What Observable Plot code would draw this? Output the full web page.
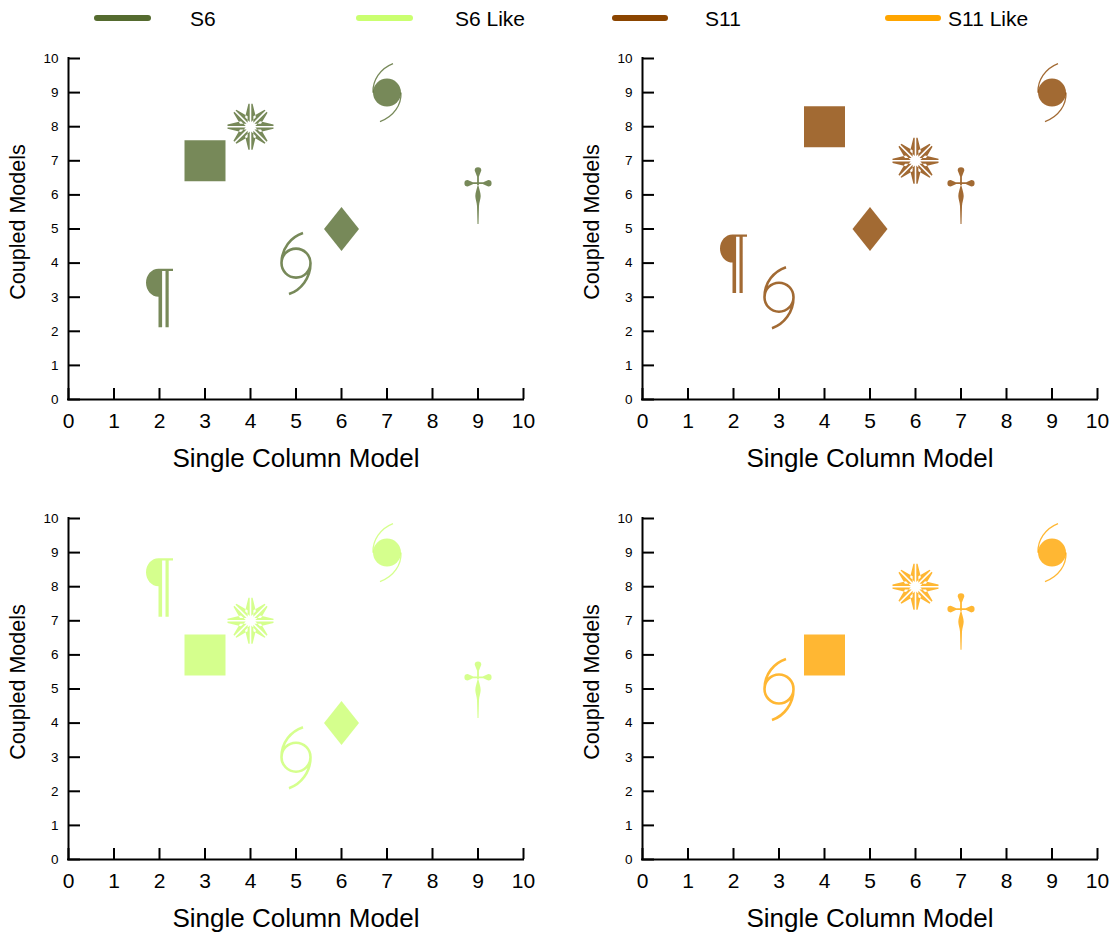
<!DOCTYPE html>
<html>
<head>
<meta charset="utf-8">
<script src="https://cdn.jsdelivr.net/npm/d3@7"></script>
<script src="https://cdn.jsdelivr.net/npm/@observablehq/plot@0.6"></script>
<style>
  body { margin: 0; background: #fff; font-family: "Liberation Sans", Arial, sans-serif; }
  #root { position: relative; width: 1114px; height: 935px; overflow: hidden; }
  .panel { position: absolute; width: 557px; height: 460px; }
  .panel svg { overflow: visible; max-width: none !important; }
</style>
</head>
<body>
<div id="root"></div>
<script>
// Seven weather-style glyphs, one position per glyph in each panel
const glyphNames = ["pilcrow", "storm", "diamond", "dagger", "square", "star", "hurricane"];

// Panel values (Single Column Model, Coupled Models); null = glyph absent
const s6X      = [2, 5, 6, 9, 3, 4, 7];
const s6Y      = [3, 4, 5, 6, 7, 8, 9];
const s11X     = [2, 3, 5, 7, 4, 6, 9];
const s11Y     = [4, 3, 5, 6, 8, 7, 9];
const s6LikeX  = [2, 5, 6, 9, 3, 4, 7];
const s6LikeY  = [8, 3, 4, 5, 6, 7, 9];
const s11LikeX = [null, 3, null, 7, 4, 6, 9];
const s11LikeY = [null, 5, null, 7, 6, 8, 9];

const seriesNames  = ["S6", "S6 Like", "S11", "S11 Like"];
const seriesColors = ["#556B2F", "#CAFF70", "#8B4500", "#FFA500"];

const xTicks = [0, 1, 2, 3, 4, 5, 6, 7, 8, 9, 10];
const yTicks = [0, 1, 2, 3, 4, 5, 6, 7, 8, 9, 10];
const xTitle = "Single Column Model";
const yTitle = "Coupled Models";

// ---- custom symbols (drawn in pixels around the point; r = 10 gives unit scale)
const unit = (size) => Math.sqrt(size / Math.PI) / 10;
const KAPPA = 0.5523;

const fillParts = {
  square: { draw(c, size) { const s = unit(size) * 20.5; c.rect(-s, -s, 2 * s, 2 * s); } },
  diamond: { draw(c, size) {
    const s = unit(size);
    c.moveTo(0, -22 * s); c.lineTo(17.5 * s, 0); c.lineTo(0, 22 * s); c.lineTo(-17.5 * s, 0); c.closePath();
  } },
  star: { draw(c, size) {
    const s = unit(size);
    for (let i = 0; i < 8; i++) {
      const a = i * Math.PI / 4;
      const R = (i % 2 === 0 ? 23 : 22) * s;
      const ux = Math.cos(a), uy = Math.sin(a), vx = -uy, vy = ux;
      for (const sg of [-1, 1]) {
        const P = (u, v) => [ux * u + vx * v * sg, uy * u + vy * v * sg];
        const pts = [P(4.8 * s, 0.8 * s), P(9.5 * s, 5.4 * s), P(R, 2.1 * s), P(R, 0.8 * s)];
        c.moveTo(...pts[0]); for (const q of pts.slice(1)) c.lineTo(...q); c.closePath();
      }
    }
  } },
  hurricane: { draw(c, size) { const s = unit(size); c.moveTo(14 * s, 0); c.arc(0, 0, 14 * s, 0, 2 * Math.PI); } },
  dagger: { draw(c, size) {
    const s = unit(size);
    // teardrop: round end at (x, y), pointing toward (tx, ty)
    const drop = (x, y, r, tx, ty) => {
      const a = Math.atan2(ty - y, tx - x);
      c.moveTo((x + r * Math.cos(a + Math.PI / 2)) * s, (y + r * Math.sin(a + Math.PI / 2)) * s);
      c.arc(x * s, y * s, r * s, a + Math.PI / 2, a - Math.PI / 2);
      c.lineTo(tx * s, ty * s);
      c.closePath();
    };
    drop(0, -24.3, 3.3, 0, -16); drop(-10.3, -11.7, 3.3, -3, -11.7); drop(10.3, -11.7, 3.3, 3, -11.7);
    c.rect(-0.9 * s, -22 * s, 1.8 * s, 12 * s);
    c.rect(-8 * s, -12.6 * s, 16 * s, 1.8 * s);
    c.moveTo(0, -11 * s);
    c.bezierCurveTo(1.2 * s, -6 * s, 2.7 * s, -2 * s, 2.7 * s, 1 * s);
    c.bezierCurveTo(2.7 * s, 4 * s, 1.2 * s, 7 * s, 1.0 * s, 11 * s);
    c.lineTo(0.5 * s, 29 * s); c.lineTo(-0.5 * s, 29 * s); c.lineTo(-1.0 * s, 11 * s);
    c.bezierCurveTo(-1.2 * s, 7 * s, -2.7 * s, 4 * s, -2.7 * s, 1 * s);
    c.bezierCurveTo(-2.7 * s, -2 * s, -1.2 * s, -6 * s, 0, -11 * s);
    c.closePath();
  } },
  pilcrow: { draw(c, size) {
    const s = unit(size);
    const cx = -1 * s, cy = -14.5 * s, rx = 12.5 * s, ry = 14 * s;
    c.moveTo(cx, cy - ry);
    c.bezierCurveTo(cx - rx * KAPPA, cy - ry, cx - rx, cy - ry * KAPPA, cx - rx, cy);
    c.bezierCurveTo(cx - rx, cy + ry * KAPPA, cx - rx * KAPPA, cy + ry, cx, cy + ry);
    c.closePath();
    c.rect(-1 * s, -28.5 * s, 14.5 * s, 2.2 * s);
    c.rect(-1 * s, -28.5 * s, 3.6 * s, 58.5 * s);
    c.rect(6 * s, -28.5 * s, 3.2 * s, 58.5 * s);
  } }
};

const strokeParts = {
  hurricane: { width: 1.3, draw(c, size) {
    const s = unit(size);
    c.moveTo(-14 * s, 0); c.bezierCurveTo(-14.5 * s, -12 * s, -7 * s, -24 * s, 6 * s, -29 * s);
    c.moveTo(14 * s, 0); c.bezierCurveTo(14.5 * s, 12 * s, 7 * s, 24 * s, -7 * s, 29 * s);
  } },
  storm: { width: 2.6, draw(c, size) {
    const s = unit(size);
    c.moveTo(14.5 * s, 0); c.arc(0, 0, 14.5 * s, 0, 2 * Math.PI);
    c.moveTo(-14.5 * s, 0); c.bezierCurveTo(-14.5 * s, -15 * s, -5 * s, -26 * s, 7 * s, -30 * s);
    c.moveTo(14.5 * s, 0); c.bezierCurveTo(14.5 * s, 15 * s, 5 * s, 27 * s, -7 * s, 31 * s);
  } }
};

function rowsOf(xs, ys) {
  return glyphNames.map((g, i) => ({glyph: g, x: xs[i], y: ys[i]})).filter(d => d.x != null && d.y != null);
}

const panels = [
  {rows: rowsOf(s6X, s6Y), color: seriesColors[0], left: 0, top: 40},
  {rows: rowsOf(s11X, s11Y), color: seriesColors[2], left: 574, top: 40},
  {rows: rowsOf(s6LikeX, s6LikeY), color: seriesColors[1], left: 0, top: 500},
  {rows: rowsOf(s11LikeX, s11LikeY), color: seriesColors[3], left: 574, top: 500}
];

const W = 557, H = 460;
const M = {left: 68, right: 34, top: 18, bottom: 101};
const innerW = W - M.left - M.right, innerH = H - M.top - M.bottom;

const root = document.getElementById("root");

for (const p of panels) {
  const marks = [];
  for (const g of glyphNames) {
    const data = p.rows.filter(d => d.glyph === g);
    if (!data.length) continue;
    if (fillParts[g]) {
      marks.push(Plot.dot(data, {x: "x", y: "y", r: 10, symbol: fillParts[g], fill: p.color, fillOpacity: 0.8, stroke: "none"}));
    }
    if (strokeParts[g]) {
      marks.push(Plot.dot(data, {x: "x", y: "y", r: 10, symbol: strokeParts[g], fill: "none", stroke: p.color, strokeOpacity: 0.8, strokeWidth: strokeParts[g].width}));
    }
  }
  const chart = Plot.plot({
    width: W, height: H,
    marginLeft: M.left, marginRight: M.right, marginTop: M.top, marginBottom: M.bottom,
    style: {fontFamily: "Liberation Sans, Arial, sans-serif", color: "#000", background: "transparent"},
    x: {domain: [0, 10]},
    y: {domain: [0, 10]},
    marks: [
      Plot.axisX(xTicks, {tickSize: 0, tickPadding: 14, fontSize: 21, label: null}),
      Plot.axisY(yTicks, {tickSize: 0, tickPadding: 10, fontSize: 13.5, label: null}),
      Plot.tickX(xTicks, {x: d => d, insetTop: innerH - 11, stroke: "#000", strokeWidth: 2}),
      Plot.tickY(yTicks, {y: d => d, insetRight: innerW - 12, stroke: "#000", strokeWidth: 2}),
      Plot.ruleX([0], {stroke: "#000", strokeWidth: 2, strokeLinecap: "square"}),
      Plot.ruleY([0], {stroke: "#000", strokeWidth: 2, strokeLinecap: "square"}),
      Plot.text([xTitle], {text: d => d, frameAnchor: "bottom", dy: 67, fontSize: 26, fill: "#000"}),
      Plot.text([yTitle], {text: d => d, frameAnchor: "left", textAnchor: "middle", rotate: -90, dx: -50, dy: -7, fontSize: 21.5, fill: "#000"}),
      ...marks
    ]
  });
  const div = document.createElement("div");
  div.className = "panel";
  div.style.left = p.left + "px";
  div.style.top = p.top + "px";
  div.appendChild(chart);
  root.appendChild(div);
}

// Legend row across the top
const legendLine = [[97, 148], [359, 410], [615, 665], [888, 938]];
const legendText = [190, 455, 705, 948];
const legend = d3.create("svg").attr("width", 1114).attr("height", 40)
  .style("position", "absolute").style("left", "0px").style("top", "0px");
seriesNames.forEach((name, i) => {
  legend.append("line")
    .attr("x1", legendLine[i][0]).attr("x2", legendLine[i][1])
    .attr("y1", 18).attr("y2", 18)
    .attr("stroke", seriesColors[i]).attr("stroke-width", 6).attr("stroke-linecap", "round");
  legend.append("text")
    .attr("x", legendText[i]).attr("y", 18).attr("dy", "0.36em")
    .attr("font-size", 21).attr("font-family", "Liberation Sans, Arial, sans-serif")
    .attr("fill", "#000").text(name);
});
root.appendChild(legend.node());
</script>
</body>
</html>
